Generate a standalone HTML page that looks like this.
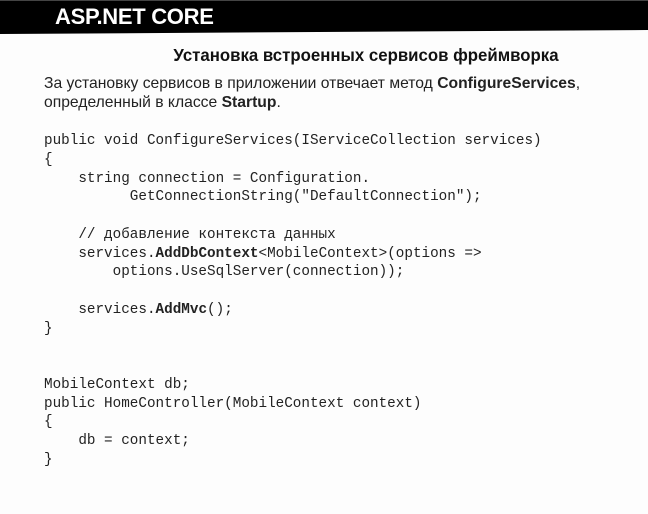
<!DOCTYPE html>
<html><head><meta charset="utf-8"><style>
html,body{margin:0;padding:0;background:#fdfdfd;width:648px;height:514px;overflow:hidden;position:relative}
.bar{position:absolute;left:0;top:0;width:648px;height:36px}
.h{position:absolute;left:55px;top:4px;color:#fff;font:bold 22px "Liberation Sans",sans-serif;letter-spacing:-0.3px}
.t{position:absolute;left:0;width:732px;text-align:center;top:45px;font:bold 17.5px "Liberation Sans","Noto Sans CJK SC",sans-serif;color:#111;transform:scaleX(0.96);transform-origin:366px 0}
.p{position:absolute;left:44px;top:74px;font:16px/19px "Liberation Sans","Noto Sans CJK SC",sans-serif;color:#222;transform:scaleX(0.98);transform-origin:0 0;white-space:nowrap}
pre{position:absolute;left:44px;top:132px;margin:0;font:14.3px/18.75px "Liberation Mono","DejaVu Sans Mono",monospace;color:#222}
b{font-weight:bold}
</style></head><body>
<svg class="bar" width="648" height="36"><polygon points="0,0 648,0 648,30 0,34" fill="#000"/><line x1="0" y1="0.5" x2="648" y2="0.5" stroke="#444"/></svg>
<div class="h">ASP.NET CORE</div>
<div class="t">Установка встроенных сервисов фреймворка</div>
<div class="p">За установку сервисов в приложении отвечает метод <b>ConfigureServices</b>,<br>определенный в классе <b>Startup</b>.</div>
<pre>public void ConfigureServices(IServiceCollection services)
{
    string connection = Configuration.
          GetConnectionString("DefaultConnection");

    // добавление контекста данных
    services.<b>AddDbContext</b>&lt;MobileContext&gt;(options =&gt;
        options.UseSqlServer(connection));

    services.<b>AddMvc</b>();
}


MobileContext db;
public HomeController(MobileContext context)
{
    db = context;
}</pre>
</body></html>
